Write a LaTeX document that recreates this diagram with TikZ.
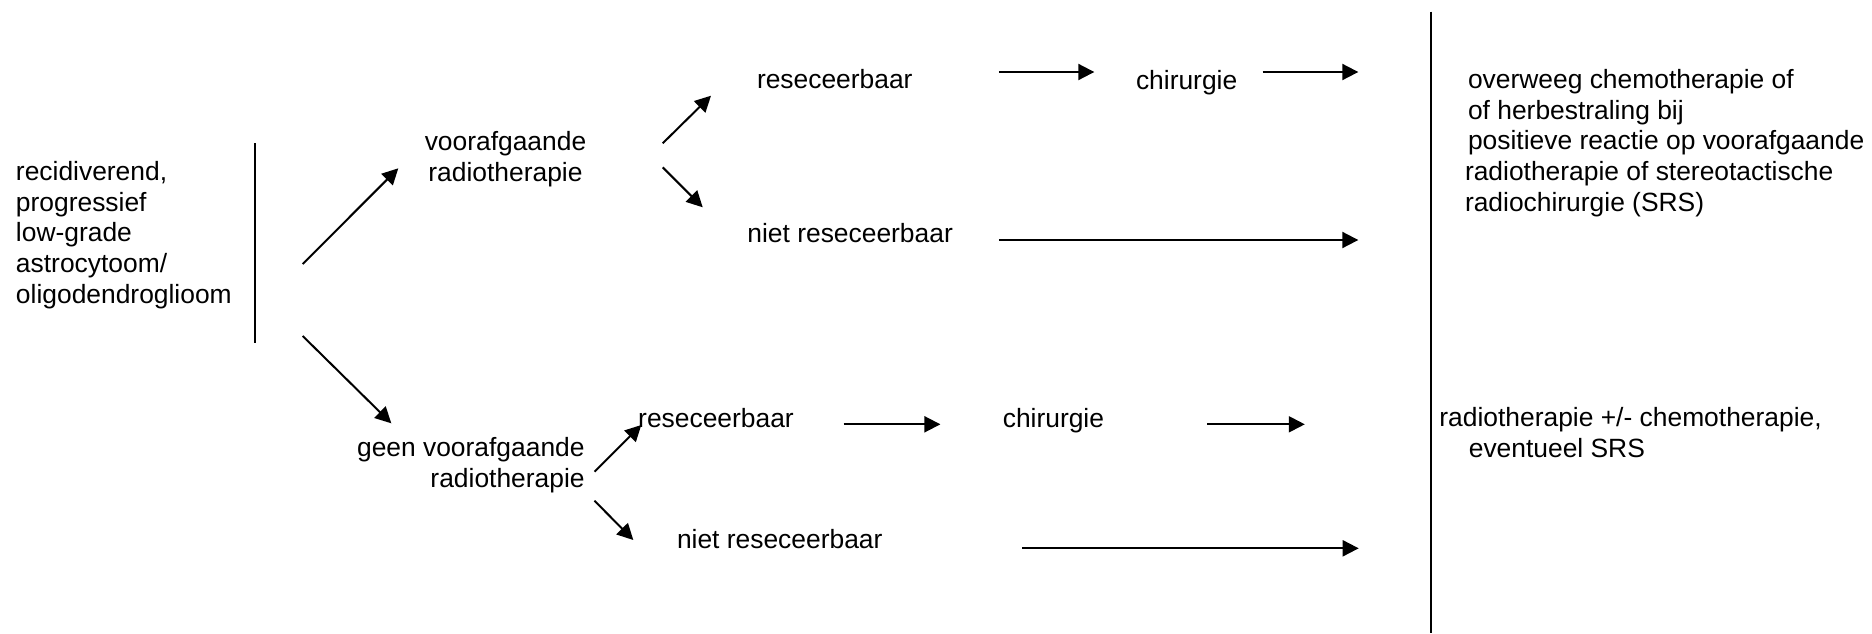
\documentclass[tikz,border=0pt]{standalone}
\usepackage{fontspec}
\setmainfont{Liberation Sans}
\usetikzlibrary{arrows.meta}
\begin{document}
\begin{tikzpicture}[x=0.5pt,y=-0.5pt,
  every node/.style={inner sep=0pt,outer sep=0pt,font=\fontsize{13.2pt}{15.4pt}\selectfont},
  txt/.style={anchor=base west,align=left},
  flow/.style={line width=1pt,-{Triangle[length=8pt,width=8pt]}},
  rule/.style={line width=1pt}]
\useasboundingbox (0,0) rectangle (1872,633);

% text blocks (multi-line nodes are placed by the baseline of their last line)
\node[txt] (cond) at (16,303.5) {recidiverend,\\progressief\\low-grade\\astrocytoom/\\oligodendroglioom};
\node[anchor=base,align=center] (prior) at (505.5,181) {voorafgaande\\radiotherapie};
\node[anchor=base east,align=right] (noprior) at (584.6,487.5) {geen voorafgaande\\radiotherapie};
\node[txt] (res1) at (757,88.7) {reseceerbaar};
\node[txt] (nonres1) at (747.4,242) {niet reseceerbaar};
\node[txt] (surg1) at (1136,89) {chirurgie};
\node[txt] (res2) at (638.2,427) {reseceerbaar};
\node[txt] (surg2) at (1002.8,427) {chirurgie};
\node[txt] (nonres2) at (677,548.7) {niet reseceerbaar};
\node[txt] (out1) at (1465,211.5) {\hspace*{1.5pt}overweeg chemotherapie of\\\hspace*{1.5pt}of herbestraling bij\\\hspace*{1.5pt}positieve reactie op voorafgaande\\radiotherapie of stereotactische\\radiochirurgie (SRS)};
\node[txt] (out2) at (1439.4,457.5) {radiotherapie +/- chemotherapie,\\\hspace*{14.7pt}eventueel SRS};

% separators
\coordinate (s1a) at (255,143.3);
\coordinate (s1b) at (255,343.3);
\coordinate (s2a) at (1431.3,11.7);
\coordinate (s2b) at (1431.3,633);
\draw[rule] (s1a) -- (s1b);
\draw[rule] (s2a) -- (s2b);

% arrow end points
\coordinate (a1s) at (302.7,264);   \coordinate (a1e) at (398.3,168.3);
\coordinate (a2s) at (302.7,336);   \coordinate (a2e) at (391.3,423.3);
\coordinate (a3s) at (662.7,143.3); \coordinate (a3e) at (711,95.7);
\coordinate (a4s) at (662.7,167.3); \coordinate (a4e) at (702.7,207.3);
\coordinate (a5s) at (998.8,72);    \coordinate (a5e) at (1094.3,72);
\coordinate (a6s) at (1262.7,72);   \coordinate (a6e) at (1358.3,72);
\coordinate (a7s) at (998.8,240);   \coordinate (a7e) at (1358.3,240);
\coordinate (a8s) at (594.5,471.7); \coordinate (a8e) at (641.3,425);
\coordinate (a9s) at (594.5,500.7); \coordinate (a9e) at (633.3,540);
\coordinate (a10s) at (843.6,424.3); \coordinate (a10e) at (940.4,424.3);
\coordinate (a11s) at (1207.4,424.3); \coordinate (a11e) at (1304.8,424.3);
\coordinate (a12s) at (1022.2,548.3); \coordinate (a12e) at (1358.7,548.3);

\foreach \i in {1,...,12} {\draw[flow] (a\i s) -- (a\i e);}
\end{tikzpicture}
\end{document}
